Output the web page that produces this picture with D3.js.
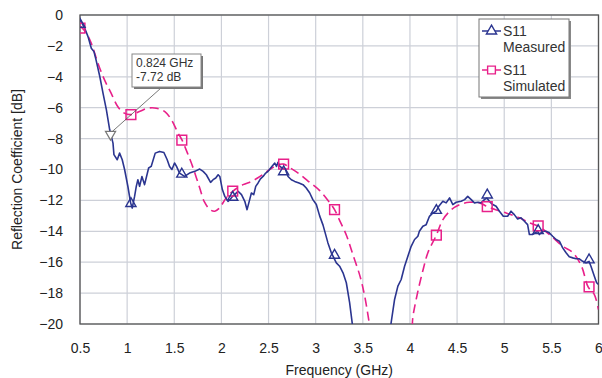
<!DOCTYPE html>
<html>
<head>
<meta charset="utf-8">
<script src="https://cdn.jsdelivr.net/npm/d3@7"></script>
<style>
  body { margin: 0; background: #fff; }
  text { font-family: "Liberation Sans", Arial, sans-serif; }
</style>
</head>
<body>
<svg id="chart"></svg>
<script>
var w = 602, h = 378;
var margin = { top: 15, right: 3, bottom: 54, left: 80 };

// tick labels
var xTicks = [0.5, 1, 1.5, 2, 2.5, 3, 3.5, 4, 4.5, 5, 5.5, 6];
var yTicks = [0, -2, -4, -6, -8, -10, -12, -14, -16, -18, -20];

// measured S11 (null = off chart below -20 dB)
var measFreq = [0.5, 0.55, 0.585, 0.62, 0.648, 0.67, 0.71, 0.744, 0.78, 0.815, 0.85, 0.86, 0.895, 0.92, 0.948, 0.973,
  1.008, 1.037, 1.054, 1.079, 1.097, 1.114, 1.132, 1.157, 1.185, 1.228, 1.255, 1.298, 1.344, 1.39, 1.425, 1.45,
  1.475, 1.503, 1.524, 1.556, 1.609, 1.662, 1.718, 1.77, 1.806, 1.84, 1.885, 1.912, 1.94, 1.965, 1.983, 2.01,
  2.036, 2.07, 2.09, 2.117, 2.14, 2.177, 2.213, 2.248, 2.272, 2.3, 2.318, 2.343, 2.364, 2.389, 2.414, 2.442,
  2.47, 2.495, 2.531, 2.566, 2.584, 2.6, 2.62, 2.643, 2.68, 2.707, 2.742, 2.777, 2.823, 2.866, 2.9, 2.937,
  2.97, 3.007, 3.042, 3.078, 3.13, 3.166, 3.219, 3.254, 3.29, 3.325, 3.36, 3.395, 3.6, 3.795, 3.8, 3.837,
  3.872, 3.907, 3.943, 3.978, 4.013, 4.049, 4.084, 4.1, 4.137, 4.172, 4.207, 4.243, 4.278, 4.306, 4.349, 4.384,
  4.42, 4.455, 4.49, 4.543, 4.58, 4.613, 4.65, 4.684, 4.72, 4.755, 4.79, 4.815, 4.843, 4.878, 4.914, 4.949,
  4.99, 5.036, 5.072, 5.107, 5.142, 5.178, 5.214, 5.248, 5.267, 5.3, 5.337, 5.355, 5.373, 5.408, 5.443, 5.478,
  5.514, 5.55, 5.585, 5.62, 5.656, 5.69, 5.727, 5.762, 5.797, 5.832, 5.868, 5.9, 5.92, 5.955, 5.98, 6.0];
var measDb = [-0.3, -0.86, -1.4, -2.15, -2.37, -2.9, -3.98, -5.06, -6.14, -7.43, -8.29, -9.04, -9.37, -8.94, -9.37, -10.0,
  -11.1, -12.16, -12.49, -11.74, -11.09, -10.66, -11.09, -10.45, -10.98, -9.9, -9.8, -8.94, -8.83, -8.9, -9.37, -9.8,
  -10.0, -9.58, -9.8, -10.23, -10.45, -10.23, -10.12, -9.97, -10.12, -10.34, -10.83, -10.66, -10.55, -10.34, -10.45, -11.3,
  -11.74, -12.06, -11.95, -11.74, -11.63, -11.41, -11.63, -12.06, -12.6, -11.95, -11.52, -11.63, -11.09, -10.87, -10.61, -10.45,
  -10.23, -10.12, -9.84, -9.58, -9.8, -9.54, -9.8, -9.9, -10.01, -10.45, -10.66, -10.77, -10.87, -10.98, -11.2, -11.52,
  -11.95, -12.27, -13.0, -13.6, -14.75, -15.39, -16.04, -16.26, -16.69, -17.33, -18.62, -20.3, null, -20.3, -19.92, -18.41,
  -17.55, -17.12, -16.26, -15.61, -14.97, -14.53, -14.32, -14.0, -13.67, -13.57, -13.03, -12.81, -12.7, -12.38, -12.06, -12.16,
  -11.84, -12.27, -12.12, -12.06, -11.95, -11.74, -11.95, -12.16, -12.12, -12.16, -11.95, -11.85, -12.06, -12.27, -12.38, -12.7,
  -13.03, -13.03, -12.7, -12.92, -13.2, -13.13, -13.35, -13.57, -14.21, -14.21, -14.06, -14.0, -14.21, -14.0, -14.0, -14.1,
  -14.32, -14.53, -14.64, -15.07, -15.39, -15.65, -15.72, -15.78, -15.78, -15.94, -16.04, -15.95, -16.26, -16.9, -17.33, -17.44];
var measMarkFreq = [0.5, 1.04, 1.58, 2.12, 2.66, 3.2, 4.28, 4.82, 5.36, 5.9];
var measMarkDb = [-0.6, -12.2, -10.3, -11.8, -10.15, -15.55, -12.65, -11.65, -13.95, -15.85];

// simulated S11
var simFreq = [0.5, 0.56, 0.62, 0.69, 0.76, 0.83, 0.9, 0.97, 1.04, 1.13, 1.22, 1.31, 1.4, 1.47, 1.54, 1.58,
  1.64, 1.7, 1.77, 1.82, 1.88, 1.93, 1.98, 2.05, 2.12, 2.23, 2.32, 2.41, 2.51, 2.6, 2.66, 2.73,
  2.83, 2.94, 3.04, 3.15, 3.2, 3.25, 3.33, 3.4, 3.47, 3.52, 3.575, 3.8, 4.025, 4.03, 4.08, 4.14,
  4.19, 4.28, 4.35, 4.44, 4.53, 4.63, 4.74, 4.82, 4.91, 5.02, 5.16, 5.27, 5.36, 5.48, 5.62, 5.73,
  5.82, 5.89, 5.955, 6.0];
var simDb = [-0.7, -1.1, -1.83, -3.12, -4.2, -5.06, -5.92, -6.35, -6.45, -6.25, -6.03, -6.03, -6.25, -6.78, -7.64, -8.07,
  -8.94, -9.9, -11.2, -12.1, -12.6, -12.7, -12.49, -11.84, -11.41, -10.98, -10.77, -10.45, -10.01, -9.69, -9.65, -9.9,
  -10.3, -10.85, -11.35, -12.16, -12.6, -13.24, -14.32, -15.61, -16.9, -18.2, -20.2, null, -20.2, -19.6, -18.0, -16.47,
  -15.39, -14.25, -13.24, -12.6, -12.27, -12.12, -12.16, -12.4, -12.6, -12.81, -13.13, -13.46, -13.67, -14.21, -14.97, -15.39,
  -16.26, -17.6, -18.09, -19.06];
var simMarkFreq = [0.5, 1.04, 1.58, 2.12, 2.66, 3.2, 4.28, 4.82, 5.36, 5.9];
var simMarkDb = [-0.85, -6.45, -8.1, -11.4, -9.65, -12.6, -14.25, -12.4, -13.65, -17.6];

// data marker annotation
var noteFreq = 0.824, noteDb = -7.72;
var noteLines = ["0.824 GHz", "-7.72 dB"];

var blue = "#2b3590", pink = "#e8208a", gridCol = "#cdd0d8", axisCol = "#555";

var svg = d3.select("#chart").attr("width", w).attr("height", h);
svg.append("rect").attr("width", w).attr("height", h).attr("fill", "#fff");

var x = d3.scaleLinear().domain([0.5, 6]).range([margin.left, w - margin.right - 0.5]);
var y = d3.scaleLinear().domain([-20, 0]).range([h - margin.bottom, margin.top]);

// grid
svg.append("g").selectAll("line").data(xTicks).enter().append("line")
  .attr("x1", d => x(d)).attr("x2", d => x(d))
  .attr("y1", y(0)).attr("y2", y(-20))
  .attr("stroke", gridCol).attr("stroke-width", 1.2);
svg.append("g").selectAll("line").data(yTicks).enter().append("line")
  .attr("x1", x(0.5)).attr("x2", x(6))
  .attr("y1", d => y(d)).attr("y2", d => y(d))
  .attr("stroke", gridCol).attr("stroke-width", 1.2);

// frame
svg.append("rect")
  .attr("x", x(0.5)).attr("y", y(0))
  .attr("width", x(6) - x(0.5)).attr("height", y(-20) - y(0))
  .attr("fill", "none").attr("stroke", axisCol).attr("stroke-width", 1.3);

// axes (labels only)
var xAxis = svg.append("g")
  .attr("transform", "translate(0," + y(-20) + ")")
  .call(d3.axisBottom(x).tickValues(xTicks).tickSize(0).tickPadding(19).tickFormat(d3.format("")));
xAxis.select(".domain").remove();
xAxis.selectAll("text").attr("font-size", "14px").attr("fill", "#222");

var yAxis = svg.append("g")
  .attr("transform", "translate(" + x(0.5) + ",0)")
  .call(d3.axisLeft(y).tickValues(yTicks).tickSize(0).tickPadding(17).tickFormat(d3.format("")));
yAxis.select(".domain").remove();
yAxis.selectAll("text").attr("font-size", "14px").attr("fill", "#222");

svg.append("text")
  .attr("x", (x(0.5) + x(6)) / 2).attr("y", 375)
  .attr("text-anchor", "middle").attr("font-size", "14px").attr("fill", "#222")
  .text("Frequency (GHz)");
svg.append("text")
  .attr("transform", "translate(22," + (y(-10)) + ") rotate(-90)")
  .attr("text-anchor", "middle").attr("font-size", "14px").attr("fill", "#222")
  .text("Reflection Coefficient [dB]");

// clip
svg.append("clipPath").attr("id", "plotclip").append("rect")
  .attr("x", x(0.5)).attr("y", y(0))
  .attr("width", x(6) - x(0.5)).attr("height", y(-20) - y(0));
var plot = svg.append("g").attr("clip-path", "url(#plotclip)");

var lineFn = d3.line()
  .defined(d => d[1] !== null)
  .x(d => x(d[0])).y(d => y(d[1]));

var simData = simFreq.map((f, i) => [f, simDb[i]]);
plot.append("path")
  .attr("d", lineFn.curve(d3.curveCatmullRom)(simData))
  .attr("fill", "none").attr("stroke", pink).attr("stroke-width", 1.6)
  .attr("stroke-dasharray", "9,5");

var measData = measFreq.map((f, i) => [f, measDb[i]]);
plot.append("path")
  .attr("d", lineFn.curve(d3.curveLinear)(measData))
  .attr("fill", "none").attr("stroke", blue).attr("stroke-width", 1.6)
  .attr("stroke-linejoin", "round");

// markers
var tri = d3.symbol().type(d3.symbolTriangle).size(45);
var sq = d3.symbol().type(d3.symbolSquare).size(95);

plot.selectAll(".sim-mark").data(simMarkFreq).enter().append("path")
  .attr("class", "sim-mark")
  .attr("transform", (d, i) => "translate(" + x(d) + "," + y(simMarkDb[i]) + ")")
  .attr("d", sq).attr("fill", "none").attr("stroke", pink).attr("stroke-width", 1.5);

plot.selectAll(".meas-mark").data(measMarkFreq).enter().append("path")
  .attr("class", "meas-mark")
  .attr("transform", (d, i) => "translate(" + x(d) + "," + y(measMarkDb[i]) + ")")
  .attr("d", tri).attr("fill", "none").attr("stroke", blue).attr("stroke-width", 1.4);

// annotation
var nx = x(noteFreq), ny = y(noteDb);
svg.append("path")
  .attr("transform", "translate(" + nx + "," + ny + ") rotate(180)")
  .attr("d", tri).attr("fill", "#fff").attr("stroke", "#777").attr("stroke-width", 1.2);
svg.append("line")
  .attr("x1", nx + 2).attr("y1", ny - 3).attr("x2", 161).attr("y2", 88)
  .attr("stroke", "#555").attr("stroke-width", 0.8);
var note = svg.append("g").attr("transform", "translate(132,54)");
note.append("rect").attr("x", 2).attr("y", 2).attr("width", 69).attr("height", 33).attr("fill", "#777");
note.append("rect").attr("width", 69).attr("height", 33).attr("fill", "#fff")
  .attr("stroke", "#888").attr("stroke-width", 1);
note.selectAll("text").data(noteLines).enter().append("text")
  .attr("x", 4).attr("y", (d, i) => 13 + i * 14)
  .attr("font-size", "12px").attr("fill", "#333").text(d => d);

// legend
var legend = svg.append("g").attr("transform", "translate(479,19)");
legend.append("rect").attr("x", 2).attr("y", 2).attr("width", 90).attr("height", 78).attr("fill", "#888");
legend.append("rect").attr("width", 90).attr("height", 78).attr("fill", "#fff")
  .attr("stroke", "#777").attr("stroke-width", 1);
var legItems = [
  { lines: ["S11", "Measured"], color: blue, sym: tri },
  { lines: ["S11", "Simulated"], color: pink, sym: sq }
];
legItems.forEach(function(it, i) {
  var gy = 12 + i * 39;
  legend.append("line").attr("x1", 3).attr("x2", 22).attr("y1", gy).attr("y2", gy)
    .attr("stroke", it.color).attr("stroke-width", 1.5);
  legend.append("path").attr("transform", "translate(12.5," + gy + ")")
    .attr("d", i === 0 ? tri : d3.symbol().type(d3.symbolSquare).size(60))
    .attr("fill", "#fff").attr("stroke", it.color).attr("stroke-width", 1.4);
  legend.selectAll(".t" + i).data(it.lines).enter().append("text")
    .attr("x", 24).attr("y", (d, j) => gy + 5 + j * 16)
    .attr("font-size", "14px").attr("fill", "#333").text(d => d);
});
</script>
</body>
</html>
